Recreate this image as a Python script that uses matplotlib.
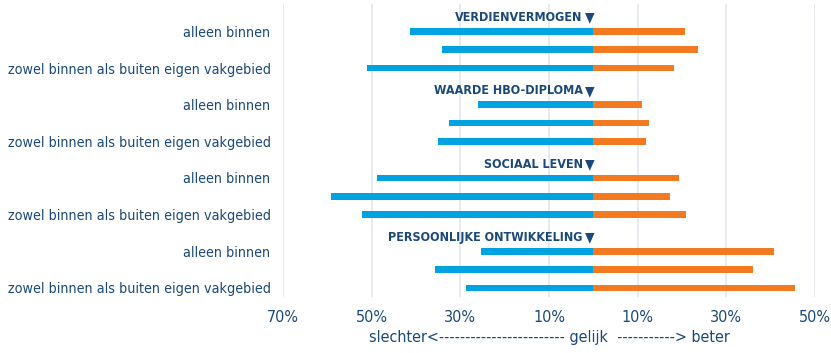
import matplotlib.pyplot as plt

# survey results per theme: share that says "worse" (left) and "better" (right)
themes = ['VERDIENVERMOGEN', 'WAARDE HBO-DIPLOMA', 'SOCIAAL LEVEN', 'PERSOONLIJKE ONTWIKKELING']
row_labels = ['alleen binnen', '', 'zowel binnen als buiten eigen vakgebied']
slechter = [
    [41.3, 34.2, 51.0],
    [26.0, 32.6, 35.1],
    [48.7, 59.2, 52.1],
    [25.4, 35.7, 28.7],
]
beter = [
    [20.6, 23.6, 18.3],
    [11.0, 12.5, 11.9],
    [19.4, 17.3, 20.8],
    [40.8, 36.1, 45.5],
]
tick_values = [-70, -50, -30, -10, 10, 30, 50]
tick_labels = ['70%', '50%', '30%', '10%', '10%', '30%', '50%']

navy = '#1b4a7a'
blue = '#00a3e0'
orange = '#f47a22'

plt.rcParams['font.family'] = ['DejaVu Sans']
plt.rcParams['font.stretch'] = 'condensed'

fig = plt.figure(figsize=(8.31, 3.53), dpi=100)
ax = fig.add_axes([283 / 831, 1 - 297 / 353, (815 - 283) / 831, 293 / 353])

ypos, ylabels = [], []
for g, theme in enumerate(themes):
    head = g * 4
    ax.text(-2.4, head + 0.25, theme, ha='right', va='center', color=navy,
            fontsize=9, fontweight='bold', fontstretch='condensed')
    ax.text(-0.9, head + 0.25, '\u25bc', ha='center', va='center', color=navy,
            fontsize=10)
    for r in range(3):
        y = head + 1 + r
        ax.barh(y, -slechter[g][r], height=0.36, color=blue)
        ax.barh(y, beter[g][r], height=0.36, color=orange)
        ypos.append(y)
        ylabels.append(row_labels[r])

ax.set_ylim(15.5, -0.5)
ax.set_xlim(-70, 50)
ax.set_yticks(ypos)
ax.set_yticklabels(ylabels, fontsize=10.3, color=navy, fontstretch='condensed')
ax.set_xticks(tick_values)
ax.set_xticklabels(tick_labels, fontsize=11.5, color=navy, fontstretch='condensed')
ax.tick_params(length=0, axis='y', pad=9)
ax.tick_params(length=0, axis='x', pad=9)
ax.grid(axis='x', color='#e3e7ee', linewidth=1.2)
ax.set_axisbelow(True)
for side in ['top', 'right', 'bottom', 'left']:
    ax.spines[side].set_visible(False)

ax.set_xlabel('slechter<' + '-' * 24 + ' gelijk  ' + '-' * 11 + '> beter',
              fontsize=11.5, color=navy, labelpad=4, fontstretch='condensed')

fig.savefig('out.png', dpi=100)
